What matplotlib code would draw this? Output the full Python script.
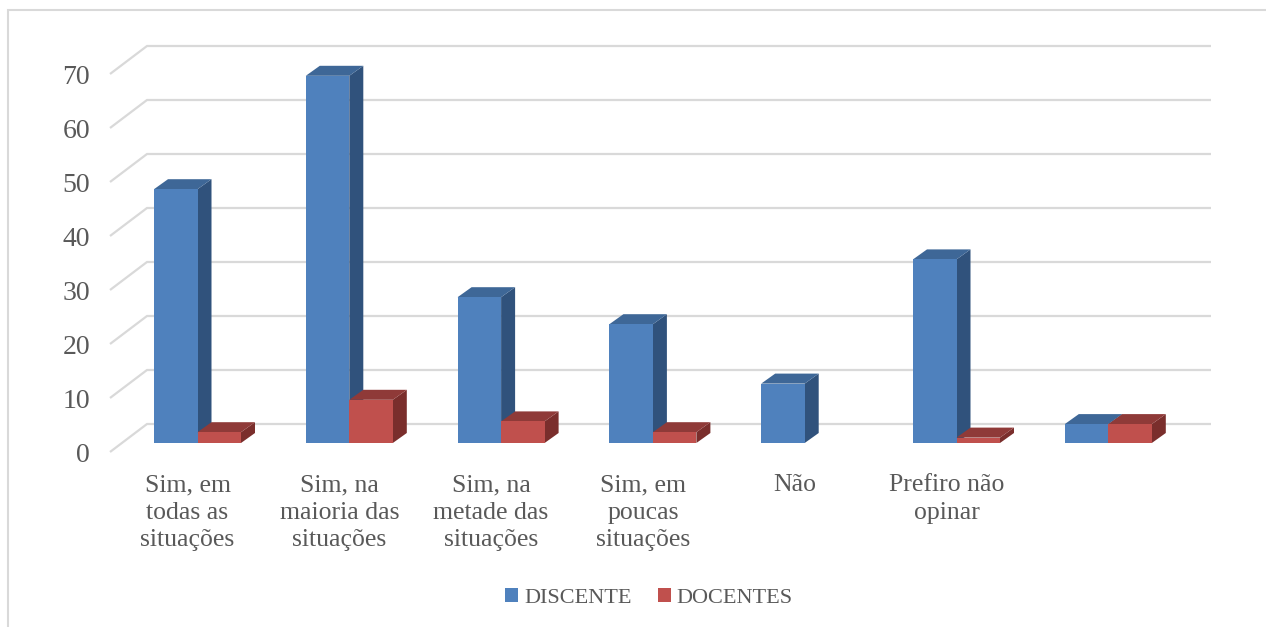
import matplotlib
matplotlib.use("Agg")
import matplotlib.pyplot as plt
from matplotlib.patches import Polygon, Patch, Rectangle
from matplotlib.lines import Line2D

categorias = ["Sim, em\ntodas as\nsituações", "Sim, na\nmaioria das\nsituações", "Sim, na\nmetade das\nsituações",
              "Sim, em\npoucas\nsituações", "Não", "Prefiro não\nopinar", ""]
discente = [47, 68, 27, 22, 11, 34, 3.5]
docentes = [2, 8, 4, 2, 0, 1, 3.5]
y_ticks = [0, 10, 20, 30, 40, 50, 60, 70]

W, H = 1266, 627
PX_CAT = 151.8   # pixels per category
PX_VAL = 5.4     # pixels per unit
X0, Y0 = 197.5, 443.0   # pixel of category 0 / value 0 at the bar front

plt.rcParams['font.family'] = ['Liberation Serif', 'DejaVu Serif']

fig = plt.figure(figsize=(W / 100, H / 100), dpi=100, facecolor='w')
# frame only has left and top sides
fig.add_artist(Line2D([8 / W, 8 / W, 1], [0, 1 - 9.5 / H, 1 - 9.5 / H], transform=fig.transFigure,
                      color='#D9D9D9', lw=1.5, solid_joinstyle='miter'))

# axes covers the whole figure, limits map data units to the picture
ax = fig.add_axes([0, 0, 1, 1])
ax.set_xlim((0 - X0) / PX_CAT, (W - X0) / PX_CAT)
ax.set_ylim((Y0 - H) / PX_VAL, Y0 / PX_VAL)
ax.axis('off')

px = lambda p: p / PX_CAT
pv = lambda p: p / PX_VAL

# floor + back wall lines
for v in y_ticks:
    x_front = px(110 - X0)
    x_back = px(147 - X0)
    x_end = px(1211 - X0)
    y_front = v - pv(9)
    y_back = v + pv(19)
    ax.plot([x_front, x_back, x_end], [y_front, y_back, y_back], color='#D9D9D9', lw=1.6, zorder=1,
            solid_capstyle='butt', solid_joinstyle='miter')
    ax.text(x_front - px(20), y_front - pv(3), str(v), ha='right', va='center', fontsize=20, color='#595959')


def bar3d(x, w, h, front, top, side):
    dx, dy = px(14), pv(10)
    ax.add_patch(Polygon([(x + w, 0), (x + w + dx, dy), (x + w + dx, h + dy), (x + w, h)], fc=side, ec='none', zorder=3))
    ax.add_patch(Polygon([(x, h), (x + dx, h + dy), (x + w + dx, h + dy), (x + w, h)], fc=top, ec='none', zorder=3))
    ax.add_patch(Rectangle((x, 0), w, h, fc=front, ec='none', zorder=3))


bw = 43.5 / PX_CAT
for i in range(len(discente)):
    bar3d(i - bw, bw, discente[i], '#4F81BD', '#3E6797', '#30527C')
    if docentes[i] > 0:
        bar3d(i, bw, docentes[i], '#C0504D', '#8F3A38', '#7A2E2C')

for i, c in enumerate(categorias):
    ax.text(i - px(10), pv(Y0 - 474), c, ha='center', va='top', fontsize=18.5, color='#595959', linespacing=1.33)

ax.legend(handles=[Patch(fc='#4F81BD', label='DISCENTE'), Patch(fc='#C0504D', label='DOCENTES')],
          loc='center', bbox_to_anchor=(649 / W, 1 - 598 / H), ncol=2, frameon=False, fontsize=16,
          labelcolor='#595959', handlelength=0.585, handleheight=0.585, handletextpad=0.27, columnspacing=1.17)

plt.savefig("out.png", dpi=100)
